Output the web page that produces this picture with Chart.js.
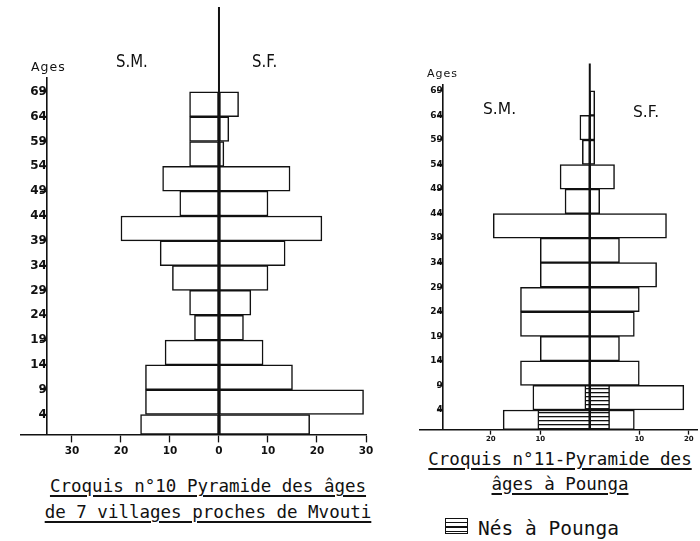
<!DOCTYPE html>
<html>
<head>
<meta charset="utf-8">
<script src="https://cdn.jsdelivr.net/npm/chart.js@4.4.1/dist/chart.umd.min.js"></script>
<style>
  html, body { margin: 0; padding: 0; background: #fff; }
  #page { position: relative; width: 700px; height: 541px; overflow: hidden; background: #fff; color: #111; }
  canvas { position: absolute; top: 0; }
  .lbl { position: absolute; line-height: 1; white-space: nowrap; font-family: "DejaVu Sans", sans-serif; }
  .side { transform: scaleX(0.83); transform-origin: left top; font-size: 18px; }
  .cap { position: absolute; text-align: center; white-space: nowrap; font-family: "DejaVu Sans Mono", monospace;
         font-size: 17.5px; text-decoration: underline; text-decoration-thickness: 1.5px; text-underline-offset: 3px; }
  .swatch { position: absolute; left: 445px; top: 518px; width: 21px; height: 14px; border: 1.5px solid #111;
            background: repeating-linear-gradient(to bottom, #fff 0, #fff 3px, #111 3px, #111 4.3px); }
</style>
</head>
<body>
<div id="page">
  <canvas id="mvouti" width="380" height="461" style="left:0px"></canvas>
  <canvas id="pounga" width="300" height="447" style="left:400px"></canvas>

  <div class="lbl" style="left:31px; top:61.4px; font-size:12.5px; letter-spacing:1px;">Ages</div>
  <div class="lbl side" style="left:116px; top:51.8px;">S.M.</div>
  <div class="lbl side" style="left:252px; top:51.8px;">S.F.</div>

  <div class="lbl" style="left:427px; top:67.7px; font-size:11px; letter-spacing:1px;">Ages</div>
  <div class="lbl" style="left:483px; top:101.9px; font-size:15.5px;">S.M.</div>
  <div class="lbl" style="left:633px; top:104.9px; font-size:15.5px;">S.F.</div>

  <div class="cap" style="left:8px; width:400px; top:473px; line-height:26px;">Croquis n°10_Pyramide des âges<br>de 7 villages proches de Mvouti</div>
  <div class="cap" style="left:410px; width:300px; top:446.5px; line-height:25px;">Croquis n°11-Pyramide des<br>âges à Pounga</div>

  <div class="swatch"></div>
  <div class="lbl" style="left:478px; top:518.5px; font-size:19.5px; font-family:'DejaVu Sans Mono', monospace;">Nés à Pounga</div>
</div>

<script>
// age groups: 0-4, 4-9, 9-14, ... 64-69
var AGE_BOUNDS = [0, 4, 9, 14, 19, 24, 29, 34, 39, 44, 49, 54, 59, 64, 69];
var AGE_TICKS = [4, 9, 14, 19, 24, 29, 34, 39, 44, 49, 54, 59, 64, 69];

// croquis 10 - 7 villages near Mvouti
var MVOUTI_MEN   = [16, 15, 15, 11, 5, 6, 9.5, 12, 20, 8, 11.5, 6, 6, 6];
var MVOUTI_WOMEN = [18.5, 29.5, 15, 9, 5, 6.5, 10, 13.5, 21, 10, 14.5, 1, 2, 4];
var MVOUTI_X_TICKS = [-30, -20, -10, 0, 10, 20, 30];

// croquis 11 - Pounga
var POUNGA_MEN   = [17.5, 11.5, 14, 10, 14, 14, 10, 10, 19.5, 5, 6, 1.5, 2, 0];
var POUNGA_WOMEN = [9, 19, 10, 6, 9, 10, 13.5, 6, 15.5, 2, 5, 1, 1, 1];
var POUNGA_BORN_MEN   = [10.5, 1];   // born in Pounga, groups 0-4 and 4-9
var POUNGA_BORN_WOMEN = [4, 4];
var POUNGA_X_TICKS = [-20, -10, 10, 20];

Chart.defaults.font.family = "DejaVu Sans";
Chart.defaults.color = "#111";

var INK = "#111";

// horizontal stripes for the "Nés à Pounga" bars
var stripeCanvas = document.createElement("canvas");
stripeCanvas.width = 4;
stripeCanvas.height = 4.3;
var sctx = stripeCanvas.getContext("2d");
sctx.fillStyle = "#fff";
sctx.fillRect(0, 0, 4, 5);
sctx.fillStyle = INK;
sctx.fillRect(0, 0, 4, 1.3);
var stripes = sctx.createPattern(stripeCanvas, "repeat");

// one dataset per bar height (the 0-4 group is one year shorter)
function barSets(values, sign, fill) {
    var byWidth = {};
    values.forEach(function (v, i) {
        var lo = AGE_BOUNDS[i], hi = AGE_BOUNDS[i + 1];
        var w = hi - lo;
        byWidth[w] = byWidth[w] || [];
        byWidth[w].push({ y: (lo + hi) / 2, x: sign < 0 ? [-v, 0] : [0, v] });
    });
    return Object.keys(byWidth).map(function (w) {
        return {
            type: "bar",
            indexAxis: "y",
            years: +w,
            data: byWidth[w],
            backgroundColor: fill,
            borderColor: INK,
            borderWidth: 1.5,
            borderSkipped: false,
            grouped: false,
            clip: false
        };
    });
}

function centerLine(top) {
    return {
        type: "line",
        data: [{ x: 0, y: 0 }, { x: 0, y: top }],
        borderColor: INK,
        borderWidth: 2,
        pointRadius: 0,
        clip: false
    };
}

function pyramid(id, cfg) {
    var datasets = [centerLine(cfg.centerTop)];
    (cfg.extra || []).forEach(function (s) { datasets = datasets.concat(s); });
    datasets = datasets.concat(barSets(cfg.men, -1, "#fff"), barSets(cfg.women, 1, "#fff"));

    var chart = new Chart(document.getElementById(id), {
        type: "bar",
        data: { datasets: datasets },
        options: {
            responsive: false,
            animation: false,
            events: [],
            layout: { padding: cfg.padding },
            plugins: { legend: { display: false }, tooltip: { enabled: false } },
            scales: {
                x: {
                    type: "linear",
                    position: "bottom",
                    min: cfg.xMin,
                    max: cfg.xMax,
                    offset: false,
                    afterBuildTicks: function (s) {
                        s.ticks = cfg.xTicks.map(function (v) { return { value: v }; });
                    },
                    ticks: {
                        autoSkip: false,
                        maxRotation: 0,
                        padding: cfg.xPad,
                        font: { size: cfg.xFont, weight: "bold" },
                        callback: function (v) { return Math.abs(v); }
                    },
                    grid: { offset: false, drawOnChartArea: false, tickLength: cfg.xTick, tickColor: INK, tickWidth: 1.3 },
                    border: { color: INK, width: 1.6 }
                },
                y: {
                    type: "linear",
                    position: { x: cfg.axisAt },
                    min: 0,
                    max: cfg.yMax,
                    offset: false,
                    afterBuildTicks: function (s) {
                        s.ticks = AGE_TICKS.map(function (v) { return { value: v }; });
                    },
                    ticks: {
                        autoSkip: false,
                        padding: cfg.yPad,
                        font: { size: cfg.yFont, weight: "bold" }
                    },
                    grid: { offset: false, drawOnChartArea: false, tickLength: cfg.yTick, tickColor: INK, tickWidth: 1.3 },
                    border: { color: INK, width: 1.6 }
                }
            }
        }
    });

    // bars cover their whole age span: thickness from the y scale
    var ys = chart.scales.y;
    var perYear = Math.abs(ys.getPixelForValue(0) - ys.getPixelForValue(1));
    chart.data.datasets.forEach(function (ds) {
        if (ds.years) ds.barThickness = ds.years * perYear;
    });
    chart.update("none");
    return chart;
}

pyramid("mvouti", {
    men: MVOUTI_MEN,
    women: MVOUTI_WOMEN,
    xTicks: MVOUTI_X_TICKS,
    xMin: -40.5, xMax: 30,
    yMax: 71.8,
    axisAt: -35.1,
    centerTop: 86.1,
    padding: { left: 20.5, right: 14, top: 78, bottom: 0 },
    xFont: 10.5, xPad: 3, xTick: 8,
    yFont: 12, yPad: 12, yTick: 6
});

pyramid("pounga", {
    men: POUNGA_MEN,
    women: POUNGA_WOMEN,
    extra: [barSets(POUNGA_BORN_MEN, -1, stripes), barSets(POUNGA_BORN_WOMEN, 1, stripes)],
    xTicks: POUNGA_X_TICKS,
    xMin: -34.3, xMax: 21.66,
    yMax: 70.2,
    axisAt: -29.7,
    centerTop: 74.6,
    padding: { left: 20, right: 3, top: 85, bottom: 0 },
    xFont: 7, xPad: 0, xTick: 5,
    yFont: 9, yPad: 12, yTick: 5
});
</script>
</body>
</html>
